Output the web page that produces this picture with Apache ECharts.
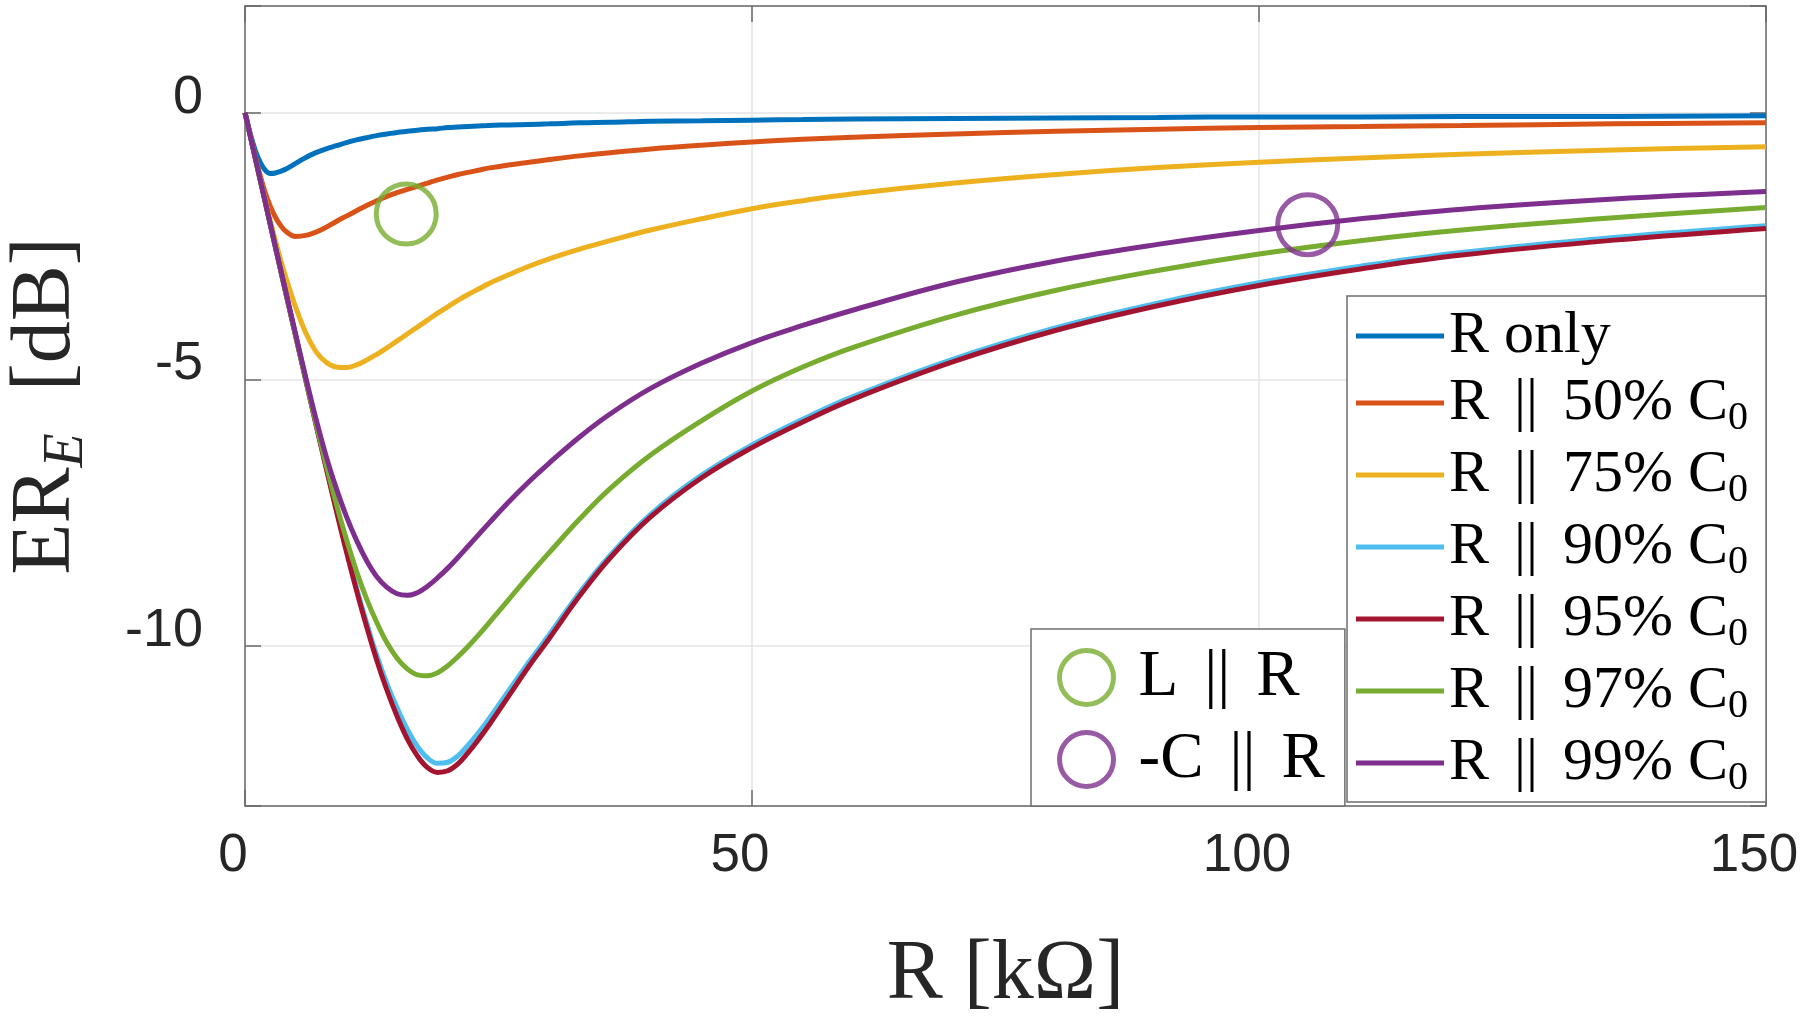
<!DOCTYPE html>
<html>
<head>
<meta charset="utf-8">
<script src="https://cdn.jsdelivr.net/npm/echarts@6/dist/echarts.min.js"></script>
<style>
html,body{margin:0;padding:0;background:#fff;}
#chart{width:1800px;height:1025px;}
</style>
</head>
<body>
<div id="chart"></div>
<script>
// ---- data ----
const R = [0,0.5,1,1.5,2,2.5,3,3.5,4,5,6,7,8,9,10,11,12,13,14,15,16,17,18,19,20,21,22,23,24,26,28,30,33,36,40,45,50,55,60,70,80,90,100,110,120,135,150];

const rOnly = [0,-0.38,-0.70,-0.93,-1.08,-1.14,-1.13,-1.10,-1.06,-0.95,-0.84,-0.75,-0.68,-0.62,-0.56,-0.51,-0.47,-0.43,-0.40,-0.37,-0.35,-0.33,-0.31,-0.30,-0.28,-0.27,-0.26,-0.25,-0.24,-0.23,-0.22,-0.21,-0.19,-0.18,-0.16,-0.15,-0.14,-0.13,-0.12,-0.11,-0.10,-0.09,-0.08,-0.08,-0.07,-0.07,-0.06];
const c50 = [0,-0.41,-0.81,-1.18,-1.50,-1.76,-1.96,-2.11,-2.22,-2.32,-2.30,-2.24,-2.15,-2.04,-1.94,-1.84,-1.74,-1.65,-1.57,-1.50,-1.44,-1.38,-1.32,-1.26,-1.21,-1.16,-1.12,-1.08,-1.04,-0.98,-0.93,-0.88,-0.81,-0.75,-0.68,-0.61,-0.55,-0.50,-0.46,-0.40,-0.35,-0.31,-0.28,-0.26,-0.24,-0.21,-0.19];
const c75 = [0,-0.42,-0.83,-1.24,-1.64,-2.03,-2.40,-2.75,-3.07,-3.65,-4.13,-4.48,-4.68,-4.77,-4.78,-4.73,-4.64,-4.53,-4.41,-4.28,-4.15,-4.02,-3.89,-3.76,-3.64,-3.52,-3.41,-3.31,-3.21,-3.04,-2.88,-2.74,-2.56,-2.40,-2.20,-1.99,-1.80,-1.65,-1.52,-1.32,-1.16,-1.03,-0.93,-0.85,-0.78,-0.70,-0.64];
const c90 = [0,-0.42,-0.84,-1.26,-1.68,-2.10,-2.52,-2.94,-3.36,-4.19,-5.02,-5.84,-6.64,-7.43,-8.19,-8.91,-9.57,-10.18,-10.71,-11.16,-11.56,-11.88,-12.10,-12.20,-12.18,-12.06,-11.86,-11.63,-11.38,-10.84,-10.30,-9.79,-9.00,-8.30,-7.53,-6.80,-6.23,-5.75,-5.32,-4.61,-4.03,-3.57,-3.19,-2.88,-2.62,-2.34,-2.12];
const c95 = [0,-0.42,-0.84,-1.26,-1.68,-2.10,-2.52,-2.94,-3.36,-4.19,-5.02,-5.85,-6.66,-7.46,-8.23,-8.96,-9.64,-10.27,-10.83,-11.32,-11.74,-12.06,-12.28,-12.37,-12.34,-12.21,-12.00,-11.76,-11.50,-10.94,-10.38,-9.86,-9.06,-8.35,-7.58,-6.85,-6.28,-5.80,-5.37,-4.66,-4.08,-3.62,-3.24,-2.93,-2.67,-2.39,-2.17];
const c97 = [0,-0.42,-0.84,-1.26,-1.68,-2.10,-2.52,-2.94,-3.36,-4.19,-5.01,-5.82,-6.60,-7.33,-8.00,-8.60,-9.12,-9.56,-9.94,-10.23,-10.43,-10.54,-10.56,-10.50,-10.37,-10.20,-10.01,-9.80,-9.58,-9.13,-8.68,-8.25,-7.62,-7.05,-6.42,-5.78,-5.22,-4.77,-4.40,-3.80,-3.33,-2.96,-2.65,-2.40,-2.20,-1.97,-1.78];
const c99 = [0,-0.42,-0.84,-1.26,-1.68,-2.10,-2.52,-2.93,-3.34,-4.16,-4.97,-5.74,-6.44,-7.04,-7.57,-8.02,-8.40,-8.70,-8.90,-9.02,-9.05,-9.00,-8.88,-8.72,-8.54,-8.34,-8.13,-7.92,-7.71,-7.30,-6.92,-6.57,-6.08,-5.65,-5.17,-4.70,-4.31,-3.99,-3.70,-3.18,-2.78,-2.47,-2.21,-1.99,-1.81,-1.62,-1.48];

const lineNames = ['R only','R || 50% C0','R || 75% C0','R || 90% C0','R || 95% C0','R || 97% C0','R || 99% C0'];
const lineValues = [rOnly, c50, c75, c90, c95, c97, c99];
const lineColors = ['#0072BD','#D95319','#EDB120','#4DBEEE','#A2142F','#77AC30','#7E2F8E'];

const markerNames = ['L || R','-C || R'];
const markerPoints = [[15.9,-1.9],[104.8,-2.1]];
const markerColors = ['#77AC30','#7E2F8E'];

const xTicks = [0,50,100,150];
const yRange = [-13,2];

// ---- chart ----
const chart = echarts.init(document.getElementById('chart'), null, {renderer:'canvas'});
const axisCol = '#6a6a6a';
const labelFont = 'Liberation Sans';
const serif = 'Liberation Serif';

const series = lineValues.map((vals,i)=>({
  name: lineNames[i],
  type: 'line',
  data: R.map((r,j)=>[r, vals[j]]),
  symbol: 'none',
  showSymbol: false,
  smooth: 0.4,
  lineStyle: {color: lineColors[i], width: 5},
  itemStyle: {color: lineColors[i]},
  z: 3
}));
markerPoints.forEach((p,i)=>{
  series.push({
    name: markerNames[i],
    type: 'scatter',
    data: [p],
    symbol: 'circle',
    symbolSize: 60,
    itemStyle: {color: 'rgba(0,0,0,0)', borderColor: markerColors[i], borderWidth: 5},
    z: 4
  });
});

// legend text: spaced double bar and subscript 0
function fmt(name){
  const parts = name.split('||');
  let s = '{n|' + parts[0] + '}';
  if (parts.length > 1) {
    s += '{b|||}';
    const rest = parts[1];
    if (rest.endsWith('C0')) s += '{n|' + rest.slice(0,-1) + '}{s|0}';
    else s += '{n|' + rest + '}';
  }
  return s;
}
function fmt2(name){
  const parts = name.split('||');
  return '{f|' + parts[0].trim() + '}{b|||}{n|' + parts[1].trim() + '}';
}
const legendRich = {
  n: {fontFamily: serif, fontSize: 60, color: '#000', lineHeight: 70, verticalAlign: 'middle'},
  b: {fontFamily: serif, fontSize: 60, color: '#000', lineHeight: 70, verticalAlign: 'middle', padding: [0, 10, 0, 10]},
  s: {fontFamily: serif, fontSize: 40, color: '#000', lineHeight: 40, verticalAlign: 'bottom'}
};
const legendRich2 = {
  n: {fontFamily: serif, fontSize: 65, color: '#000', lineHeight: 70, verticalAlign: 'middle'},
  f: {fontFamily: serif, fontSize: 65, color: '#000', lineHeight: 70, verticalAlign: 'middle', padding: [0, 0, 0, 20]},
  b: {fontFamily: serif, fontSize: 65, color: '#000', lineHeight: 70, verticalAlign: 'middle', padding: [0, 26, 0, 26]}
};

const option = {
  animation: false,
  backgroundColor: '#fff',
  grid: {left: 245, right: 34, top: 6, bottom: 219, containLabel: false, outerBoundsMode: 'none'},
  xAxis: [{
    type: 'value', min: xTicks[0], max: xTicks[xTicks.length-1], interval: 50,
    axisLine: {show: true, onZero: false, lineStyle: {color: axisCol, width: 1.5}},
    axisTick: {show: true, inside: true, length: 16, lineStyle: {color: axisCol, width: 1.5}},
    axisLabel: {show: true, margin: 24, fontFamily: labelFont, fontSize: 53, color: '#262626', padding: [0, 24, 0, 0]},
    splitLine: {show: true, lineStyle: {color: '#e4e4e4', width: 1.5}},
    name: 'R [k\u03A9]', nameLocation: 'middle', nameGap: 128,
    nameTextStyle: {fontFamily: serif, fontSize: 84, color: '#262626'}
  },{
    type: 'value', position: 'top', min: xTicks[0], max: xTicks[xTicks.length-1], interval: 50,
    axisLine: {show: true, onZero: false, lineStyle: {color: axisCol, width: 1.5}},
    axisTick: {show: true, inside: true, length: 16, lineStyle: {color: axisCol, width: 1.5}},
    axisLabel: {show: false}, splitLine: {show: false}
  }],
  yAxis: [{
    type: 'value', min: yRange[0], max: yRange[1], splitNumber: 3,
    axisLine: {show: true, onZero: false, lineStyle: {color: axisCol, width: 1.5}},
    axisTick: {show: true, inside: true, length: 16, lineStyle: {color: axisCol, width: 1.5}},
    axisLabel: {show: true, margin: 42, fontFamily: labelFont, fontSize: 54, color: '#262626',
      verticalAlign: 'bottom', lineHeight: 30,
      formatter: v => (v % 5 === 0 ? String(v) : '')},
    splitLine: {show: true, lineStyle: {color: '#e4e4e4', width: 1.5}},
    name: '{n|ER}{s|E}{n|  [dB]}', nameLocation: 'middle', nameGap: 150,
    nameTextStyle: {
      rich: {
        n: {fontFamily: serif, fontSize: 84, color: '#262626', lineHeight: 96, verticalAlign: 'middle'},
        s: {fontFamily: serif, fontSize: 56, fontStyle: 'italic', color: '#262626', lineHeight: 56, verticalAlign: 'bottom'}
      }
    }
  },{
    type: 'value', position: 'right', min: yRange[0], max: yRange[1], splitNumber: 3,
    axisLine: {show: true, onZero: false, lineStyle: {color: axisCol, width: 1.5}},
    axisTick: {show: true, inside: true, length: 16, lineStyle: {color: axisCol, width: 1.5}},
    axisLabel: {show: false}, splitLine: {show: false}
  }],
  legend: [{
    data: lineNames,
    orient: 'vertical',
    left: 1347, top: 296,
    padding: [10, 18, 4, 9],
    icon: 'rect',
    itemWidth: 88, itemHeight: 5, itemGap: 7,
    backgroundColor: '#fff', borderColor: '#6e6e6e', borderWidth: 1.5, borderRadius: 0,
    formatter: fmt,
    textStyle: {rich: legendRich},
    selectedMode: false
  },{
    data: markerNames,
    orient: 'vertical',
    left: 1031, top: 629,
    padding: [16, 20, 14, 26],
    itemWidth: 54, itemHeight: 54, itemGap: 17,
    backgroundColor: '#fff', borderColor: '#6e6e6e', borderWidth: 1.5, borderRadius: 0,
    itemStyle: {color: 'rgba(0,0,0,0)', borderWidth: 5},
    formatter: fmt2,
    textStyle: {rich: legendRich2},
    selectedMode: false
  }],
  series: series
};
chart.setOption(option);
</script>
</body>
</html>
